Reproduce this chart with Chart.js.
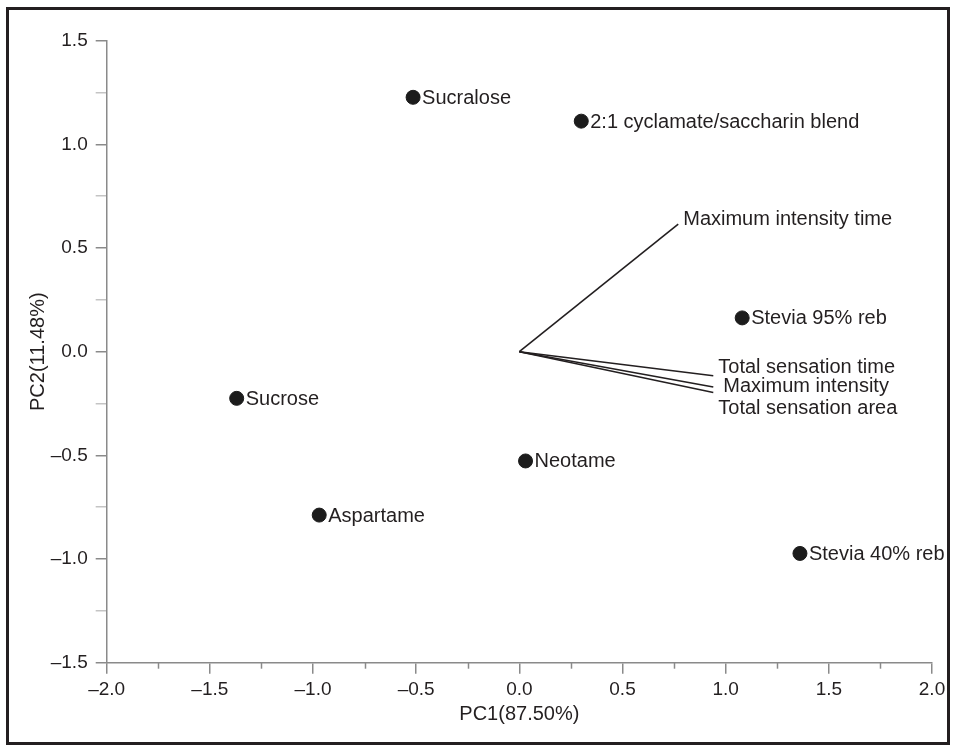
<!DOCTYPE html>
<html>
<head>
<meta charset="utf-8">
<script src="https://cdn.jsdelivr.net/npm/chart.js@4.4.1/dist/chart.umd.min.js"></script>
<style>
  html, body { margin: 0; padding: 0; background: #fff; }
  #wrap { position: relative; width: 955px; height: 750px; }
  #frame { position: absolute; left: 6px; top: 7px; width: 944px; height: 738px;
           box-sizing: border-box; border: 3px solid #231f20; pointer-events: none; }
</style>
</head>
<body>
<div id="wrap">
  <canvas id="c" width="955" height="750"></canvas>
  <div id="frame"></div>
</div>
<script>
// ---- data ----
const sweeteners = ['Sucralose', '2:1 cyclamate/saccharin blend', 'Stevia 95% reb', 'Sucrose', 'Neotame', 'Aspartame', 'Stevia 40% reb'];
const sweetPC1 = [-0.515, 0.30, 1.08, -1.37, 0.030, -0.97, 1.36];
const sweetPC2 = [1.227, 1.112, 0.163, -0.225, -0.527, -0.788, -0.973];

const attributes = ['Maximum intensity time', 'Total sensation time', 'Maximum intensity', 'Total sensation area'];
const loadPC1 = [0.77, 0.94, 0.94, 0.94];
const loadPC2 = [0.615, -0.116, -0.170, -0.197];

const xTickValues = [-2.0, -1.5, -1.0, -0.5, 0.0, 0.5, 1.0, 1.5, 2.0];
const yTickValues = [-1.5, -1.0, -0.5, 0.0, 0.5, 1.0, 1.5];
const xTitle = 'PC1(87.50%)';
const yTitle = 'PC2(11.48%)';

// ---- styles ----
const INK = '#231f20';
const AXIS = '#8a8a8a';
const FONT = "'Liberation Sans', Arial, Helvetica, sans-serif";
// label offsets (pixels) for loading-vector labels
const attrLabelOffset = [[5, -5], [5, -8], [10, 0], [5, 16]];

function fmt(v) {
  const s = Math.abs(v).toFixed(1);
  return v < -1e-9 ? '\u2013' + s : s;
}
function isMajor(v, list) {
  return list.some(t => Math.abs(t - v) < 1e-9);
}

const points = sweetPC1.map((x, i) => ({ x: x, y: sweetPC2[i] }));
const vectorSets = attributes.map((name, i) => ({
  label: name,
  data: [{ x: 0, y: 0 }, { x: loadPC1[i], y: loadPC2[i] }],
  showLine: true,
  borderColor: INK,
  borderWidth: 1.6,
  pointRadius: 0,
  pointHoverRadius: 0,
  fill: false
}));

const labelPlugin = {
  id: 'labels',
  afterDatasetsDraw(chart) {
    const ctx = chart.ctx;
    ctx.save();
    ctx.fillStyle = INK;
    ctx.font = '20px ' + FONT;
    ctx.textAlign = 'left';
    ctx.textBaseline = 'middle';
    const m0 = chart.getDatasetMeta(0);
    m0.data.forEach((el, i) => {
      ctx.fillText(sweeteners[i], el.x + 9, el.y + 1);
    });
    attributes.forEach((name, i) => {
      const meta = chart.getDatasetMeta(i + 1);
      const end = meta.data[1];
      ctx.fillText(name, end.x + attrLabelOffset[i][0], end.y + attrLabelOffset[i][1]);
    });
    ctx.restore();
  }
};

// minor x ticks (shorter)
const minorTickPlugin = {
  id: 'minorTicks',
  afterDraw(chart) {
    const ctx = chart.ctx;
    const xs = chart.scales.x;
    ctx.save();
    ctx.strokeStyle = AXIS;
    ctx.lineWidth = 1.5;
    xs.ticks.forEach(t => {
      if (!isMajor(t.value, xTickValues)) {
        const px = Math.round(xs.getPixelForValue(t.value)) + 0.5;
        ctx.beginPath();
        ctx.moveTo(px, xs.top);
        ctx.lineTo(px, xs.top + 6);
        ctx.stroke();
      }
    });
    ctx.restore();
  }
};

new Chart(document.getElementById('c'), {
  type: 'scatter',
  data: {
    datasets: [{
      label: 'Sweeteners',
      data: points,
      backgroundColor: '#1c1c1c',
      borderColor: '#1c1c1c',
      pointRadius: 7,
      pointHoverRadius: 7
    }].concat(vectorSets)
  },
  options: {
    responsive: false,
    animation: false,
    events: [],
    layout: { padding: { left: 0, top: 40.7, right: 23, bottom: 0 } },
    plugins: { legend: { display: false }, tooltip: { enabled: false } },
    scales: {
      x: {
        type: 'linear',
        min: -2, max: 2,
        afterFit(s) { s.height = 87.3; },
        border: { display: true, color: AXIS, width: 1.5 },
        grid: {
          drawOnChartArea: false, drawTicks: true, tickLength: 11, lineWidth: 1.5,
          tickColor: c => (c.tick && isMajor(c.tick.value, xTickValues)) ? AXIS : 'rgba(0,0,0,0)'
        },
        ticks: {
          stepSize: 0.25, autoSkip: false, maxRotation: 0, padding: 5,
          color: INK, font: { family: FONT, size: 19 },
          callback: v => isMajor(v, xTickValues) ? fmt(v) : ''
        },
        title: {
          display: true, text: xTitle, color: INK,
          font: { family: FONT, size: 20 }, padding: { top: 0, bottom: 24 }
        }
      },
      y: {
        type: 'linear',
        min: -1.5, max: 1.5,
        afterFit(s) { s.width = 106.7; },
        border: { display: true, color: AXIS, width: 1.5 },
        grid: {
          drawOnChartArea: false, drawTicks: true, tickLength: 11, lineWidth: 1.5,
          tickColor: c => (c.tick && isMajor(c.tick.value, yTickValues)) ? AXIS : '#c4c4c4'
        },
        ticks: {
          stepSize: 0.25, autoSkip: false, padding: 8,
          color: INK, font: { family: FONT, size: 19 },
          callback: v => isMajor(v, yTickValues) ? fmt(v) : ''
        },
        title: {
          display: true, text: yTitle, color: INK,
          font: { family: FONT, size: 20 }, padding: { top: 26, bottom: 0 }
        }
      }
    }
  },
  plugins: [labelPlugin, minorTickPlugin]
});
</script>
</body>
</html>
